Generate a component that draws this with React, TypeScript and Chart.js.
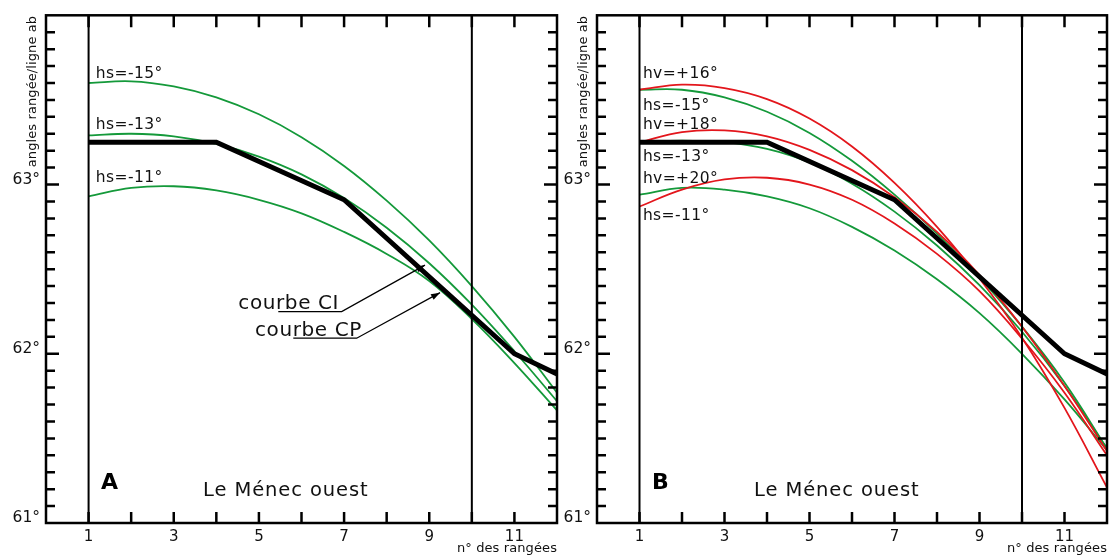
import { useEffect, useRef } from 'react';
import { Chart, registerables } from 'chart.js';

Chart.register(...registerables);

// ---------- data ----------
const rows = [1, 2, 3, 4, 5, 6, 7, 8, 9, 10, 11, 12];
const xTickLabels = [1, 3, 5, 7, 9, 11];
const yTickLabels = [61, 62, 63];
const verticalLines = [1, 10];

const blackRows = [1, 4, 7, 11, 12];
const blackValues = [63.25, 63.25, 62.91, 62.0, 61.88];

// panel A (green curves)
const leftHs15 = [63.6, 63.61, 63.58, 63.515, 63.415, 63.28, 63.11, 62.905, 62.67, 62.4, 62.1, 61.77];
const leftHs13 = [63.29, 63.3, 63.285, 63.24, 63.165, 63.06, 62.92, 62.745, 62.535, 62.29, 62.015, 61.72];
const leftHs11 = [62.93, 62.98, 62.99, 62.965, 62.91, 62.83, 62.72, 62.59, 62.43, 62.205, 61.945, 61.665];

// panel B (green and red curves)
const rightHv16 = [63.56, 63.59, 63.57, 63.505, 63.39, 63.225, 63.01, 62.75, 62.445, 62.095, 61.68, 61.21];
const rightHs15 = [63.56, 63.56, 63.515, 63.43, 63.305, 63.14, 62.94, 62.71, 62.45, 62.16, 61.83, 61.44];
const rightHv18 = [63.25, 63.31, 63.32, 63.285, 63.205, 63.085, 62.925, 62.72, 62.465, 62.16, 61.81, 61.425];
const rightHs13 = [63.25, 63.26, 63.25, 63.21, 63.13, 63.005, 62.84, 62.64, 62.405, 62.13, 61.81, 61.44];
const rightHv20 = [62.87, 62.97, 63.03, 63.04, 63.0, 62.91, 62.77, 62.59, 62.37, 62.09, 61.77, 61.4];
const rightHs11 = [62.94, 62.98, 62.97, 62.93, 62.86, 62.75, 62.61, 62.44, 62.24, 62.0, 61.73, 61.43];

const leftLabels = ['hs=-15°', 'hs=-13°', 'hs=-11°'];
const rightLabels = ['hv=+16°', 'hs=-15°', 'hv=+18°', 'hs=-13°', 'hv=+20°', 'hs=-11°'];

// ---------- styles ----------
const FONT = '"DejaVu Sans", Verdana, sans-serif';
const GREEN = '#14993a';
const RED = '#e3161c';

const pts = (xs: number[], ys: number[]) => xs.map((x, i) => ({ x, y: ys[i] }));

const curve = (values: number[], color: string, order: number) => ({
  data: pts(rows, values),
  borderColor: color,
  borderWidth: 1.8,
  pointRadius: 0,
  fill: false,
  tension: 0.4,
  order,
});

const vline = (x: number) => ({
  data: [
    { x, y: 61 },
    { x, y: 64 },
  ],
  borderColor: '#000',
  borderWidth: 2,
  pointRadius: 0,
  fill: false,
  order: 0,
});

const blackLine = () => ({
  data: pts(blackRows, blackValues),
  borderColor: '#000',
  borderWidth: 5,
  pointRadius: 0,
  fill: false,
  tension: 0,
  borderJoinStyle: 'miter',
  order: 1,
});

const setSpacing = (ctx: any, v: string) => {
  if ('letterSpacing' in ctx) ctx.letterSpacing = v;
};

const decorPlugin = {
  id: 'decor',
  afterDatasetsDraw(chart: any, _args: any, opts: any) {
    const { ctx, chartArea: a, scales } = chart;
    const xs = scales.x;
    const ys = scales.y;
    const X = (v: number) => xs.getPixelForValue(v);
    const Y = (v: number) => ys.getPixelForValue(v);
    ctx.save();
    ctx.strokeStyle = '#000';
    ctx.fillStyle = '#000';
    ctx.lineWidth = 2.5;
    ctx.lineCap = 'butt';
    ctx.beginPath();
    for (let i = 1; i <= 11; i++) {
      const px = X(i);
      ctx.moveTo(px, a.bottom);
      ctx.lineTo(px, a.bottom - 11);
      ctx.moveTo(px, a.top);
      ctx.lineTo(px, a.top + 12);
    }
    for (let k = 1; k < 30; k++) {
      const py = Y(61 + k / 10);
      const len = k % 10 === 0 ? 13 : 9;
      ctx.moveTo(a.left, py);
      ctx.lineTo(a.left + len, py);
      ctx.moveTo(a.right, py);
      ctx.lineTo(a.right - len, py);
    }
    ctx.stroke();
    ctx.strokeRect(a.left, a.top, a.right - a.left, a.bottom - a.top);

    // curve labels
    ctx.font = `15.5px ${FONT}`;
    setSpacing(ctx, '0.4px');
    ctx.textAlign = 'left';
    ctx.textBaseline = 'alphabetic';
    ctx.fillStyle = '#111';
    opts.labels.forEach((t: string, i: number) => {
      ctx.fillText(t, X(opts.labelX), Y(opts.labelY[i]));
    });

    // panel letter & title
    setSpacing(ctx, '0px');
    ctx.font = `bold 22px ${FONT}`;
    ctx.fillStyle = '#000';
    ctx.fillText(opts.letter, a.left + 55, a.bottom - 34);
    ctx.font = `19.5px ${FONT}`;
    setSpacing(ctx, '0.9px');
    ctx.fillStyle = '#111';
    ctx.fillText('Le Ménec ouest', a.left + 157, a.bottom - 27);

    // axis titles
    setSpacing(ctx, '0.1px');
    ctx.font = `13px ${FONT}`;
    ctx.textAlign = 'right';
    ctx.fillText('n° des rangées', a.right, a.bottom + 29);
    ctx.save();
    ctx.translate(a.left - 10, a.top + 0.5);
    ctx.rotate(-Math.PI / 2);
    ctx.textAlign = 'right';
    ctx.fillText('angles rangée/ligne ab', 0, 0);
    ctx.restore();

    // annotations with arrows
    (opts.notes || []).forEach((n: any) => {
      ctx.font = `20px ${FONT}`;
      setSpacing(ctx, '0.6px');
      ctx.textAlign = 'left';
      ctx.fillStyle = '#111';
      ctx.fillText(n.text, X(n.textX), Y(n.textY));
      const x0 = X(n.from[0]);
      const x1 = X(n.mid[0]);
      const yL = Y(n.from[1]);
      const tx = X(n.tip[0]);
      const ty = Y(n.tip[1]);
      ctx.strokeStyle = '#000';
      ctx.lineWidth = 1.3;
      ctx.beginPath();
      ctx.moveTo(x0, yL);
      ctx.lineTo(x1, yL);
      ctx.lineTo(tx, ty);
      ctx.stroke();
      const ang = Math.atan2(ty - yL, tx - x1);
      const L = 9;
      const W = 3.2;
      ctx.fillStyle = '#000';
      ctx.beginPath();
      ctx.moveTo(tx, ty);
      ctx.lineTo(tx - L * Math.cos(ang) + W * Math.sin(ang), ty - L * Math.sin(ang) - W * Math.cos(ang));
      ctx.lineTo(tx - L * Math.cos(ang) - W * Math.sin(ang), ty - L * Math.sin(ang) + W * Math.cos(ang));
      ctx.closePath();
      ctx.fill();
    });
    setSpacing(ctx, '0px');
    ctx.restore();
  },
};

function makeConfig(datasets: any[], yWidth: number, padRight: number, decor: any) {
  return {
    type: 'line',
    data: { datasets },
    plugins: [decorPlugin],
    options: {
      animation: false,
      responsive: false,
      events: [],
      layout: { padding: { top: 13, right: padRight, bottom: 0, left: 0 } },
      plugins: {
        legend: { display: false },
        tooltip: { enabled: false },
        decor,
      },
      scales: {
        x: {
          type: 'linear',
          min: 0,
          max: 12,
          afterFit: (s: any) => {
            s.height = 32;
          },
          grid: { display: false, drawTicks: false },
          border: { display: false },
          ticks: {
            stepSize: 1,
            autoSkip: false,
            maxRotation: 0,
            padding: 5,
            color: '#111',
            font: { family: FONT, size: 15 },
            callback: (v: number) => (xTickLabels.includes(v) ? String(v) : ''),
          },
        },
        y: {
          type: 'linear',
          min: 61,
          max: 64,
          afterFit: (s: any) => {
            s.width = yWidth;
          },
          grid: { display: false, drawTicks: false },
          border: { display: false },
          ticks: {
            stepSize: 1,
            padding: 6,
            labelOffset: -5,
            color: '#111',
            font: { family: FONT, size: 15.5 },
            callback: (v: number) => (yTickLabels.includes(v) ? `${v}°` : ''),
          },
        },
      },
    },
  };
}

function Panel({ left, width, config }: { left: number; width: number; config: () => any }) {
  const ref = useRef<HTMLCanvasElement | null>(null);
  useEffect(() => {
    if (!ref.current) return;
    const chart = new Chart(ref.current, config() as any);
    return () => chart.destroy();
  }, []);
  return (
    <canvas
      ref={ref}
      width={width}
      height={555}
      style={{ position: 'absolute', left, top: 0, width, height: 555 }}
    />
  );
}

const leftConfig = () =>
  makeConfig(
    [
      vline(verticalLines[0]),
      vline(verticalLines[1]),
      blackLine(),
      curve(leftHs15, GREEN, 3),
      curve(leftHs13, GREEN, 3),
      curve(leftHs11, GREEN, 3),
    ],
    46,
    5,
    {
      letter: 'A',
      labels: leftLabels,
      labelX: 1.17,
      labelY: [63.628, 63.326, 63.016],
      notes: [
        { text: 'courbe CI', textX: 4.516, textY: 62.263, from: [5.455, 62.249], mid: [6.944, 62.249], tip: [8.9, 62.524] },
        { text: 'courbe CP', textX: 4.908, textY: 62.106, from: [5.807, 62.092], mid: [7.296, 62.092], tip: [9.253, 62.361] },
      ],
    }
  );

const rightConfig = () =>
  makeConfig(
    [
      vline(verticalLines[0]),
      vline(verticalLines[1]),
      blackLine(),
      curve(rightHv16, RED, 2),
      curve(rightHv18, RED, 2),
      curve(rightHv20, RED, 2),
      curve(rightHs15, GREEN, 3),
      curve(rightHs13, GREEN, 3),
      curve(rightHs11, GREEN, 3),
    ],
    41,
    4,
    {
      letter: 'B',
      labels: rightLabels,
      labelX: 1.08,
      labelY: [63.628, 63.438, 63.326, 63.138, 63.01, 62.79],
      notes: [],
    }
  );

export default function App() {
  return (
    <div style={{ position: 'absolute', left: 0, top: 0, width: 1112, height: 555, background: '#fff' }}>
      <Panel left={0} width={562} config={leftConfig} />
      <Panel left={556} width={556} config={rightConfig} />
    </div>
  );
}
